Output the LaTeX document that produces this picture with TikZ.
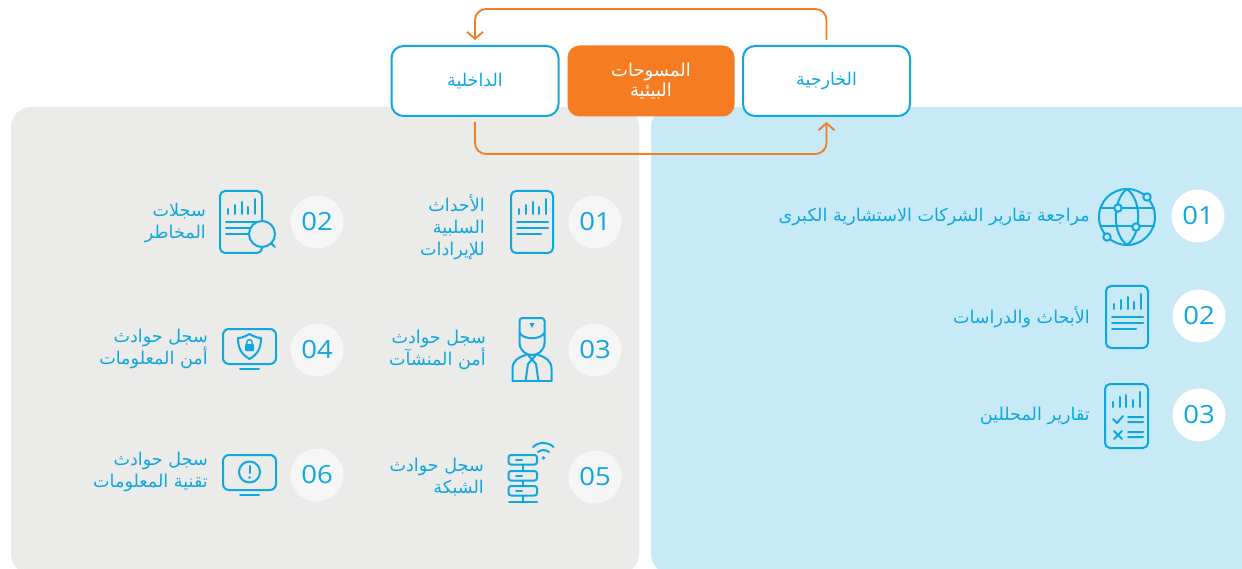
\documentclass[tikz,border=0pt]{standalone}
\usepackage{fontspec}
\usetikzlibrary{arrows.meta}
\TeXXeTstate=1
\newfontfamily\arabicfont[Script=Arabic]{DejaVu Sans}
\newfontfamily\digitfont[FakeStretch=1.1]{Open Sans}
\newcommand{\arl}[1]{\beginR #1\endR}
\definecolor{cy}{HTML}{0FA7DF}
\definecolor{org}{HTML}{F57C20}
\definecolor{pgray}{HTML}{EBEBE9}
\definecolor{pblue}{HTML}{C7EAF6}
\definecolor{cgray}{HTML}{F6F6F6}
\tikzset{
  x=1pt,y=-1pt,
  panel/.style={rounded corners=20pt},
  box/.style={draw=cy,line width=2pt,fill=white,rounded corners=12pt,minimum width=167pt,minimum height=70pt,outer sep=0pt,text=cy,align=center,font=\arabicfont\fontsize{17.5}{20}\selectfont},
  orgbox/.style={fill=org,rounded corners=12pt,minimum width=167pt,minimum height=71pt,outer sep=0pt,text=white,align=center,font=\arabicfont\fontsize{18}{20}\selectfont},
  flow/.style={draw=org,line width=1.8pt,rounded corners=11pt,shorten <=6pt,shorten >=6pt,-{Straight Barb[length=7pt,width=16pt,line width=1.8pt]}},
  num/.style={circle,minimum size=53pt,inner sep=0pt,text=cy,font=\digitfont\fontsize{25}{25}\selectfont},
  lbl/.style={anchor=east,inner sep=0pt,text=cy,align=right,font=\arabicfont\fontsize{17.6}{22}\selectfont},
  ic/.style={draw=cy,line width=2pt,line cap=round,line join=round},
  pics/barsdoc/.style={code={
    \draw[ic,rounded corners=5pt] (0,0) rectangle (42,62);
    \draw[ic] (8,23)--(8,18) (15,23)--(15,14) (22,23)--(22,11) (28,23)--(28,16) (35,23)--(35,8);
    \draw[ic] (6,31)--(37,31) (6,37)--(37,37) (6,43)--(30,43);
  }},
  pics/monitor/.style={code={
    \draw[ic,rounded corners=6pt] (0,0) rectangle (53,35);
    \draw[ic] (17,40)--(36,40);
  }}
}
\begin{document}
\begin{tikzpicture}
\useasboundingbox (0,0) rectangle (1242,569);
\fill[white] (0,0) rectangle (1242,569);
\begin{scope}
\clip (0,0) rectangle (1242,569);
\fill[pgray,panel] (11,107) rectangle (639,574);
\fill[pblue,panel] (651,107) rectangle (1300,574);
\end{scope}
% top boxes
\node[box] (int) at (475,81) {\arl{الداخلية}};
\node[orgbox] (mid) at (651,81) {\arl{المسوحات}\\\arl{البيئية}};
\node[box] (ext) at (826.5,81) {\arl{الخارجية}};
\draw[flow] (ext.north) -- ++(0,-37) -| (int.north);
\draw[flow] (int.south) -- ++(0,38) -| (ext.south);
% number circles
\node[num,fill=white] (b1) at (1198,216) {01};
\node[num,fill=white] (b2) at (1199,316) {02};
\node[num,fill=white] (b3) at (1199,415) {03};
\node[num,fill=cgray] (g1) at (595,222) {01};
\node[num,fill=cgray] (g3) at (595,350) {03};
\node[num,fill=cgray] (g5) at (595,477) {05};
\node[num,fill=cgray] (g2) at (317,222) {02};
\node[num,fill=cgray] (g4) at (317,350) {04};
\node[num,fill=cgray] (g6) at (317,475) {06};
% labels
\node[lbl] (tb1) at (1090,217) {\arl{مراجعة تقارير الشركات الاستشارية الكبرى}};
\node[lbl] (tb2) at (1090,317) {\arl{الأبحاث والدراسات}};
\node[lbl] (tb3) at (1090,416) {\arl{تقارير المحللين}};
\node[lbl] (tg1) at (485,227) {\arl{الأحداث}\\\arl{السلبية}\\\arl{للإيرادات}};
\node[lbl] (tg3) at (486,350) {\arl{سجل حوادث}\\\arl{أمن المنشآت}};
\node[lbl] (tg5) at (484,477) {\arl{سجل حوادث}\\\arl{الشبكة}};
\node[lbl] (tg2) at (206,223) {\arl{سجلات}\\\arl{المخاطر}};
\node[lbl] (tg4) at (208,349) {\arl{سجل حوادث}\\\arl{أمن المعلومات}};
\node[lbl] (tg6) at (208,472) {\arl{سجل حوادث}\\\arl{تقنية المعلومات}};
% globe
\draw[ic] (1127,217) circle[radius=28];
\draw[ic] (1127,189) .. controls (1112,200) and (1112,234) .. (1127,245);
\draw[ic] (1127,189) .. controls (1142,200) and (1142,234) .. (1127,245);
\draw[ic] (1100,208)--(1154,208) (1100,226)--(1154,226);
\foreach \p in {(1118,208),(1136,227),(1147,197),(1107,237)}
  \draw[ic,fill=pblue] \p circle[radius=3.7];
% documents
\pic at (1106,286) {barsdoc};
\pic at (511,191) {barsdoc};
% checklist document
\draw[ic,rounded corners=5pt] (1105,384) rectangle (1148,448);
\begin{scope}[shift={(1105,384)}]
\draw[ic] (8,23)--(8,18) (15,23)--(15,13) (21,23)--(21,11) (28,23)--(28,16) (35,23)--(35,8);
\draw[ic] (8,35)--(12,39)--(18,32) (23,33)--(38,33) (23,38)--(38,38);
\draw[ic] (9,47)--(17,55) (17,47)--(9,55) (23,48)--(38,48) (23,53)--(38,53);
\end{scope}
% document with lens
\pic at (220,191) {barsdoc};
\draw[ic,fill=pgray] (262,234) circle[radius=13];
\draw[ic] (271,243)--(275,247);
% monitors
\pic at (223,329) {monitor};
\pic at (223,455) {monitor};
\draw[ic] (249.5,334) .. controls (244,337) and (241,338) .. (238,338) .. controls (238,348) and (241,354) .. (249.5,359) .. controls (258,354) and (261,348) .. (261,338) .. controls (258,338) and (255,337) .. (249.5,334) -- cycle;
\fill[cy,rounded corners=1pt] (245,344) rectangle (254,351);
\draw[ic,line width=1.4pt] (246.5,344) .. controls (246.5,338) and (252.5,338) .. (252.5,344);
\draw[ic] (249.5,472) circle[radius=10.5];
\draw[ic] (249.5,466)--(249.5,473);
\fill[cy] (249.5,477.5) circle[radius=1.3];
% guard
\draw[ic,rounded corners=3pt] (519.5,333) -- (519.5,318) -- (544.5,318) -- (544.5,333);
\draw[ic] (519.5,333) -- (519.5,343) .. controls (520,351) and (526,355) .. (532,355) .. controls (538,355) and (544,351) .. (544.5,343) -- (544.5,333);
\draw[ic] (519.5,333) .. controls (524,340) and (540,340) .. (544.5,333);
\fill[cy] (529.5,323) -- (534.5,323) -- (532,328) -- cycle;
\draw[ic] (512.5,381) -- (512.5,369) .. controls (512.5,361) and (518,357) .. (526,355) (551.5,381) -- (551.5,369) .. controls (551.5,361) and (546,357) .. (538,355);
\draw[ic] (512.5,381) -- (551.5,381);
\draw[ic] (528,355) -- (536,364) -- (538.5,381) (536,355) -- (528,364) -- (525.5,381);
% server
\foreach \y in {455,471,486}{
  \draw[ic,rounded corners=2.5pt] (508.5,\y) rectangle (537,\y+9.5);
  \draw[ic] (516,\y+4.7)--(522,\y+4.7);
}
\draw[ic] (523,464.5)--(523,471) (523,480.5)--(523,486) (523,495.5)--(523,502);
\draw[ic] (509,502)--(537,502);
\fill[cy] (543.5,458) circle[radius=1.8];
\draw[ic] (538,452) .. controls (541,449.5) and (546,449.5) .. (549,452);
\draw[ic] (533,447) .. controls (539,441.5) and (548,441.5) .. (553.5,447);
\end{tikzpicture}
\end{document}
